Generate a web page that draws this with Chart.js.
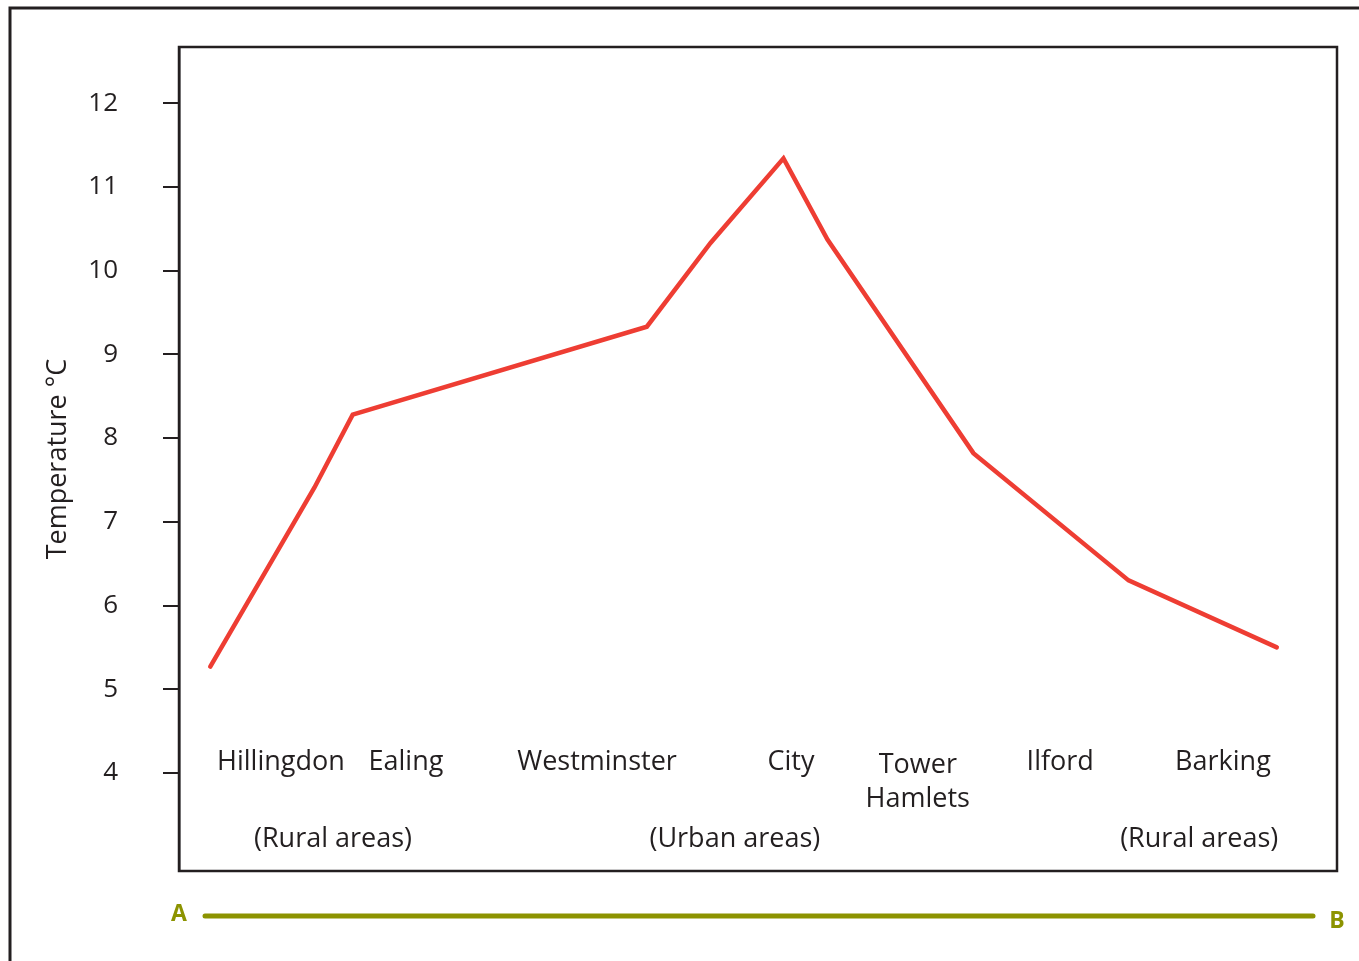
<!DOCTYPE html>
<html>
<head>
<meta charset="utf-8">
<script src="https://cdn.jsdelivr.net/npm/chart.js@4"></script>
<style>
  html, body { margin: 0; padding: 0; background: #fff; }
  #wrap { width: 1359px; height: 961px; position: relative; }
</style>
</head>
<body>
<div id="wrap"><canvas id="heatChart"></canvas></div>
<script>
// distance along the A-B transect (0 = left edge of the plot, 100 = right edge)
const distances = [2.7, 11.7, 15.0, 40.4, 45.9, 52.2, 56.0, 68.6, 82.0, 94.8];
const temperatures = [5.27, 7.41, 8.28, 9.33, 10.33, 11.34, 10.37, 7.82, 6.30, 5.50];
const yTicks = [4, 5, 6, 7, 8, 9, 10, 11, 12];

const places = [["Hillingdon"], ["Ealing"], ["Westminster"], ["City"], ["Tower", "Hamlets"], ["Ilford"], ["Barking"]];
const placeAt = [8.8, 19.6, 36.1, 52.85, 63.8, 76.1, 90.15];
const areas = ["(Rural areas)", "(Urban areas)", "(Rural areas)"];
const areaAt = [13.3, 48.0, 88.1];

const INK = "#231f20";
const OLIVE = "#8c9300";
const FONT = "'Open Sans', sans-serif";

const framePlugin = {
    id: "frame",
    beforeDraw(chart) {
        const ctx = chart.ctx;
        ctx.save();
        ctx.strokeStyle = INK;
        ctx.lineWidth = 3;
        ctx.beginPath();
        ctx.moveTo(10, chart.height + 5);
        ctx.lineTo(10, 8);
        ctx.lineTo(chart.width + 5, 8);
        ctx.stroke();
        ctx.restore();
    },
    afterDraw(chart) {
        const ctx = chart.ctx;
        const a = chart.chartArea;
        const x = chart.scales.x;
        ctx.save();
        // plot box
        ctx.strokeStyle = INK;
        ctx.lineWidth = 2.5;
        ctx.strokeRect(a.left, a.top, a.right - a.left, a.bottom - a.top);

        // place names
        ctx.fillStyle = INK;
        ctx.font = "27px " + FONT;
        ctx.textAlign = "center";
        ctx.textBaseline = "middle";
        places.forEach((lines, i) => {
            const px = x.getPixelForValue(placeAt[i]);
            const y0 = lines.length > 1 ? 765 : 762;
            lines.forEach((t, j) => ctx.fillText(t, px, y0 + j * 34));
        });
        areas.forEach((t, i) => {
            ctx.fillText(t, x.getPixelForValue(areaAt[i]), 839);
        });

        // A - B transect
        ctx.strokeStyle = OLIVE;
        ctx.lineWidth = 5;
        ctx.lineCap = "round";
        ctx.beginPath();
        ctx.moveTo(205, 916);
        ctx.lineTo(1313, 916);
        ctx.stroke();
        ctx.fillStyle = OLIVE;
        ctx.font = "bold 23px " + FONT;
        ctx.fillText("A", 179, 914);
        ctx.fillText("B", 1337, 921);
        ctx.restore();
    }
};

const canvas = document.getElementById("heatChart");
const chart = new Chart(canvas.getContext("2d"), {
    type: "line",
    data: {
        datasets: [{
            data: distances.map((d, i) => ({ x: d, y: temperatures[i] })),
            borderColor: "#ee3d33",
            borderWidth: 4.5,
            borderCapStyle: "round",
            pointRadius: 0,
            tension: 0,
            fill: false
        }]
    },
    options: {
        responsive: true,
        maintainAspectRatio: false,
        animation: false,
        layout: { padding: { left: 0, top: 47, right: 22, bottom: 90 } },
        plugins: {
            legend: { display: false },
            tooltip: { enabled: false }
        },
        scales: {
            x: { type: "linear", min: 0, max: 100, display: false },
            y: {
                min: 2.83,
                max: 12.67,
                afterFit(scale) {
                    scale.width = 179;
                    scale.paddingTop = 0;
                    scale.paddingBottom = 0;
                },
                afterBuildTicks(scale) { scale.ticks = yTicks.map(v => ({ value: v })); },
                border: { display: true, color: INK, width: 2.5 },
                grid: { drawOnChartArea: false, drawTicks: true, tickLength: 16, color: INK, lineWidth: 2 },
                ticks: { color: INK, font: { family: FONT, size: 26 }, padding: 45 },
                title: {
                    display: true,
                    text: "Temperature °C",
                    color: INK,
                    font: { family: FONT, size: 27 },
                    padding: { top: 42, bottom: 0 }
                }
            }
        }
    },
    plugins: [framePlugin]
});
</script>
</body>
</html>
